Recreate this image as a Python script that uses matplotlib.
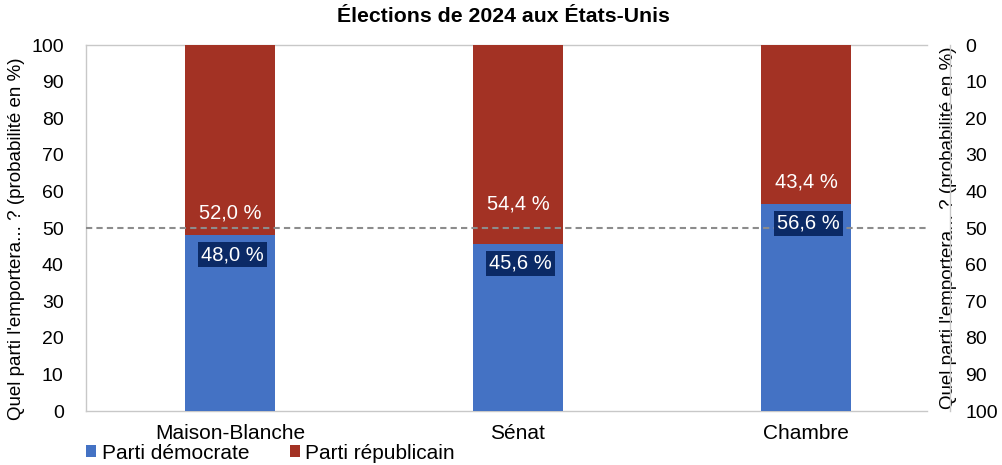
import matplotlib
matplotlib.use('Agg')
import matplotlib.pyplot as plt
import numpy as np

plt.rcParams['font.family'] = ['Liberation Sans', 'DejaVu Sans']

# data
categories = ['Maison-Blanche', 'Sénat', 'Chambre']
democrate = [48.0, 45.6, 56.6]
republicain = [52.0, 54.4, 43.4]
series_names = ['Parti démocrate', 'Parti républicain']
y_ticks = [0, 10, 20, 30, 40, 50, 60, 70, 80, 90, 100]
seuil = 50

# label offsets above the boundary for red labels (points)
red_offsets = [9, 22, 9]

blue = '#4472C4'
red = '#A33224'
navy = '#0B2A66'
grid_gray = '#C8C8C8'
ylabel_txt = "Quel parti l'emportera... ? (probabilité en %)"

fig = plt.figure(figsize=(10.03, 4.65), dpi=100)
ax = fig.add_axes([0.0857, 0.1161, 0.8614, 0.7871])

x = np.arange(len(categories))
width = 90 / 288
ax.bar(x, democrate, width, color=blue, label=series_names[0], zorder=2)
ax.bar(x, republicain, width, bottom=democrate, color=red, label=series_names[1], zorder=2)

ax.set_xlim(-0.5, 2.5)
ax.set_ylim(0, 100)
ax.set_yticks(y_ticks)
ax.set_xticks(x)
ax.set_xticklabels(categories, fontsize=15)
ax.tick_params(axis='x', length=0, pad=9, colors='black')
ax.tick_params(axis='y', length=0, pad=16, labelsize=14)

for s in ['top', 'bottom', 'right']:
    ax.spines[s].set_visible(False)
ax.spines['left'].set_color(grid_gray)
ax.spines['left'].set_linewidth(1)

xmax_line = (927 - 86) / (950 - 86)
ax.axhline(100, xmin=0, xmax=xmax_line, color=grid_gray, lw=1, zorder=1, clip_on=False)
ax.axhline(0, xmin=0, xmax=xmax_line, color=grid_gray, lw=1, zorder=1, clip_on=False)
ax.axhline(seuil, xmin=0, xmax=xmax_line, color='#8C8C8C', lw=1.5,
           linestyle=(0, (3, 2)), zorder=3)

for i in range(len(categories)):
    d = democrate[i]
    r = republicain[i]
    ax.annotate(f"{d:.1f} %".replace('.', ','), (x[i], d), xytext=(2, -7),
                textcoords='offset points', ha='center', va='top',
                color='white', fontsize=14.5, zorder=5,
                bbox=dict(boxstyle='square,pad=0.15', fc=navy, ec='none'))
    ax.annotate(f"{r:.1f} %".replace('.', ','), (x[i], d), xytext=(0, red_offsets[i]),
                textcoords='offset points', ha='center', va='bottom',
                color='white', fontsize=14.5, zorder=5)

ax.set_ylabel(ylabel_txt, fontsize=13.5)
ax.yaxis.set_label_coords(-0.071, 0.47)

ax2 = ax.twinx()
ax2.set_ylim(100, 0)
ax2.set_yticks(y_ticks)
ax2.tick_params(axis='y', length=0, pad=11, labelsize=14)
for s in ['top', 'bottom', 'left']:
    ax2.spines[s].set_visible(False)
ax2.spines['right'].set_color(grid_gray)
ax2.spines['right'].set_linewidth(1)
ax2.set_ylabel(ylabel_txt, fontsize=13.5)
ax2.yaxis.set_label_coords(0.988, 0.5)
ax2.yaxis.label.set_rotation(90)

fig.suptitle('Élections de 2024 aux États-Unis', fontsize=15.3, fontweight='bold',
             x=0.502, y=0.985, va='top')

leg = fig.legend(loc='lower left', bbox_to_anchor=(0.067, -0.035), ncol=2,
                 frameon=False, fontsize=15, handlelength=0.5, handleheight=0.5,
                 handletextpad=0.25, columnspacing=1.95)

fig.savefig('out.png', dpi=100)
